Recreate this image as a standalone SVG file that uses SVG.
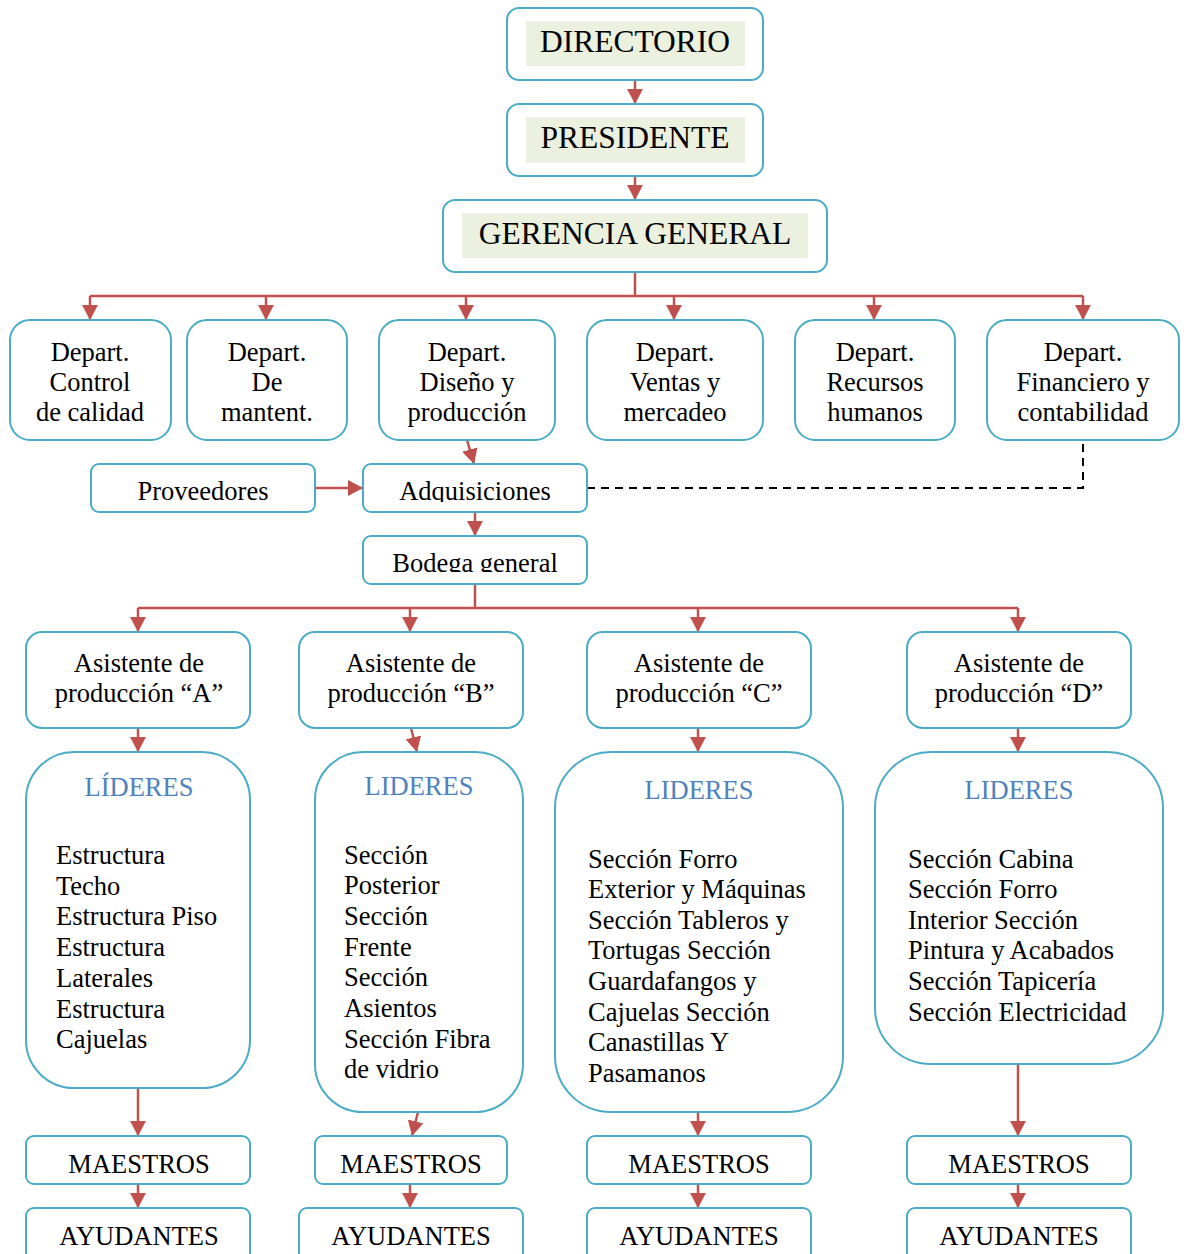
<svg xmlns="http://www.w3.org/2000/svg" width="1187" height="1254" viewBox="0 0 1187 1254">
  <defs>
    <marker id="arr" markerUnits="userSpaceOnUse" markerWidth="16" markerHeight="16" refX="15" refY="8" orient="auto">
      <path d="M0,0 L15,8 L0,16 z" fill="#c0504d"/>
    </marker>
    <clipPath id="clipAdq"><rect x="363" y="464" width="224" height="38"/></clipPath>
    <clipPath id="clipBod"><rect x="363" y="536" width="224" height="36"/></clipPath>
  </defs>
  <style>
    .box { fill: #ffffff; stroke: #4bacc6; stroke-width: 2; }
    .hl { fill: #ebf1de; }
    .t { font-family: "Liberation Serif", "Times New Roman", serif; font-size: 26.5px; fill: #000000; }
    .big { font-size: 31.5px; }
    .c { text-anchor: middle; }
    .blue { fill: #4f81bd; }
    .conn { fill: none; stroke: #c0504d; stroke-width: 2.5; }
    .arw { marker-end: url(#arr); }
    .dash { fill: none; stroke: #000000; stroke-width: 2; stroke-dasharray: 8 6; }
  </style>

  <!-- connectors -->
  <g id="connectors">
    <line class="conn arw" x1="635" y1="80" x2="635" y2="104"/>
    <line class="conn arw" x1="635" y1="176" x2="635" y2="200"/>
    <line class="conn" x1="635" y1="272" x2="635" y2="296"/>
    <line class="conn" x1="90" y1="296" x2="1083" y2="296"/>
    <line class="conn arw" x1="90" y1="296" x2="90" y2="320"/>
    <line class="conn arw" x1="266" y1="296" x2="266" y2="320"/>
    <line class="conn arw" x1="466" y1="296" x2="466" y2="320"/>
    <line class="conn arw" x1="674" y1="296" x2="674" y2="320"/>
    <line class="conn arw" x1="874" y1="296" x2="874" y2="320"/>
    <line class="conn arw" x1="1083" y1="296" x2="1083" y2="320"/>
    <line class="conn arw" x1="467" y1="440" x2="474" y2="464"/>
    <line class="conn arw" x1="315" y1="488" x2="363" y2="488"/>
    <line class="conn arw" x1="475" y1="512" x2="475" y2="536"/>
    <polyline class="dash" points="587,488 1083,488 1083,444"/>
    <line class="conn" x1="475" y1="584" x2="475" y2="608"/>
    <line class="conn" x1="138" y1="608" x2="1018" y2="608"/>
    <line class="conn arw" x1="138" y1="608" x2="138" y2="632"/>
    <line class="conn arw" x1="410" y1="608" x2="410" y2="632"/>
    <line class="conn arw" x1="698" y1="608" x2="698" y2="632"/>
    <line class="conn arw" x1="1018" y1="608" x2="1018" y2="632"/>
    <line class="conn arw" x1="138" y1="728" x2="138" y2="752"/>
    <line class="conn arw" x1="411" y1="728" x2="417" y2="752"/>
    <line class="conn arw" x1="698" y1="728" x2="698" y2="752"/>
    <line class="conn arw" x1="1018" y1="728" x2="1018" y2="752"/>
    <line class="conn arw" x1="138" y1="1088" x2="138" y2="1136"/>
    <line class="conn arw" x1="418" y1="1112" x2="412" y2="1136"/>
    <line class="conn arw" x1="698" y1="1112" x2="698" y2="1136"/>
    <line class="conn arw" x1="1018" y1="1064" x2="1018" y2="1136"/>
    <line class="conn arw" x1="138" y1="1184" x2="138" y2="1208"/>
    <line class="conn arw" x1="410" y1="1184" x2="410" y2="1208"/>
    <line class="conn arw" x1="698" y1="1184" x2="698" y2="1208"/>
    <line class="conn arw" x1="1018" y1="1184" x2="1018" y2="1208"/>
  </g>

  <!-- top management -->
  <g id="directorio">
    <rect class="box" x="507" y="8" width="256" height="72" rx="12"/>
    <rect class="hl" x="526" y="21" width="219" height="45"/>
    <text class="t big c" x="635" y="52">DIRECTORIO</text>
  </g>
  <g id="presidente">
    <rect class="box" x="507" y="104" width="256" height="72" rx="12"/>
    <rect class="hl" x="526" y="117" width="219" height="46"/>
    <text class="t big c" x="635" y="148">PRESIDENTE</text>
  </g>
  <g id="gerencia">
    <rect class="box" x="443" y="200" width="384" height="72" rx="12"/>
    <rect class="hl" x="462" y="213" width="346" height="45"/>
    <text class="t big c" x="635" y="244">GERENCIA GENERAL</text>
  </g>

  <!-- departments -->
  <g id="dep-calidad">
    <rect class="box" x="10" y="320" width="161" height="120" rx="20"/>
    <text class="t c" x="90" y="361">Depart.</text>
    <text class="t c" x="90" y="391">Control</text>
    <text class="t c" x="90" y="421">de calidad</text>
  </g>
  <g id="dep-mantenimiento">
    <rect class="box" x="187" y="320" width="160" height="120" rx="20"/>
    <text class="t c" x="267" y="361">Depart.</text>
    <text class="t c" x="267" y="391">De</text>
    <text class="t c" x="267" y="421">mantent.</text>
  </g>
  <g id="dep-diseno">
    <rect class="box" x="379" y="320" width="176" height="120" rx="20"/>
    <text class="t c" x="467" y="361">Depart.</text>
    <text class="t c" x="467" y="391">Diseño y</text>
    <text class="t c" x="467" y="421">producción</text>
  </g>
  <g id="dep-ventas">
    <rect class="box" x="587" y="320" width="176" height="120" rx="20"/>
    <text class="t c" x="675" y="361">Depart.</text>
    <text class="t c" x="675" y="391">Ventas y</text>
    <text class="t c" x="675" y="421">mercadeo</text>
  </g>
  <g id="dep-rrhh">
    <rect class="box" x="795" y="320" width="160" height="120" rx="20"/>
    <text class="t c" x="875" y="361">Depart.</text>
    <text class="t c" x="875" y="391">Recursos</text>
    <text class="t c" x="875" y="421">humanos</text>
  </g>
  <g id="dep-financiero">
    <rect class="box" x="987" y="320" width="192" height="120" rx="20"/>
    <text class="t c" x="1083" y="361">Depart.</text>
    <text class="t c" x="1083" y="391">Financiero y</text>
    <text class="t c" x="1083" y="421">contabilidad</text>
  </g>

  <!-- supply chain -->
  <g id="proveedores">
    <rect class="box" x="91" y="464" width="224" height="48" rx="8"/>
    <text class="t c" x="203" y="500">Proveedores</text>
  </g>
  <g id="adquisiciones">
    <rect class="box" x="363" y="464" width="224" height="48" rx="8"/>
    <text class="t c" x="475" y="500" clip-path="url(#clipAdq)">Adquisiciones</text>
  </g>
  <g id="bodega">
    <rect class="box" x="363" y="536" width="224" height="48" rx="8"/>
    <text class="t c" x="475" y="572" clip-path="url(#clipBod)">Bodega general</text>
  </g>

  <!-- production assistants -->
  <g id="asistente-a">
    <rect class="box" x="26" y="632" width="224" height="96" rx="16"/>
    <text class="t c" x="139" y="672">Asistente de</text>
    <text class="t c" x="139" y="702">producción “A”</text>
  </g>
  <g id="asistente-b">
    <rect class="box" x="299" y="632" width="224" height="96" rx="16"/>
    <text class="t c" x="411" y="672">Asistente de</text>
    <text class="t c" x="411" y="702">producción “B”</text>
  </g>
  <g id="asistente-c">
    <rect class="box" x="587" y="632" width="224" height="96" rx="16"/>
    <text class="t c" x="699" y="672">Asistente de</text>
    <text class="t c" x="699" y="702">producción “C”</text>
  </g>
  <g id="asistente-d">
    <rect class="box" x="907" y="632" width="224" height="96" rx="16"/>
    <text class="t c" x="1019" y="672">Asistente de</text>
    <text class="t c" x="1019" y="702">producción “D”</text>
  </g>

  <!-- leaders -->
  <g id="lideres-a">
    <rect class="box" x="26" y="752" width="224" height="336" rx="48"/>
    <text class="t c blue" x="139" y="796">LÍDERES</text>
    <text class="t" x="56" y="864">Estructura</text>
    <text class="t" x="56" y="895">Techo</text>
    <text class="t" x="56" y="925">Estructura Piso</text>
    <text class="t" x="56" y="956">Estructura</text>
    <text class="t" x="56" y="987">Laterales</text>
    <text class="t" x="56" y="1018">Estructura</text>
    <text class="t" x="56" y="1048">Cajuelas</text>
  </g>
  <g id="lideres-b">
    <rect class="box" x="315" y="752" width="208" height="360" rx="48"/>
    <text class="t c blue" x="419" y="795">LIDERES</text>
    <text class="t" x="344" y="864">Sección</text>
    <text class="t" x="344" y="894">Posterior</text>
    <text class="t" x="344" y="925">Sección</text>
    <text class="t" x="344" y="956">Frente</text>
    <text class="t" x="344" y="986">Sección</text>
    <text class="t" x="344" y="1017">Asientos</text>
    <text class="t" x="344" y="1048">Sección Fibra</text>
    <text class="t" x="344" y="1078">de vidrio</text>
  </g>
  <g id="lideres-c">
    <rect class="box" x="555" y="752" width="288" height="360" rx="56"/>
    <text class="t c blue" x="699" y="799">LIDERES</text>
    <text class="t" x="588" y="868">Sección Forro</text>
    <text class="t" x="588" y="898">Exterior y Máquinas</text>
    <text class="t" x="588" y="929">Sección Tableros y</text>
    <text class="t" x="588" y="959">Tortugas Sección</text>
    <text class="t" x="588" y="990">Guardafangos y</text>
    <text class="t" x="588" y="1021">Cajuelas Sección</text>
    <text class="t" x="588" y="1051">Canastillas Y</text>
    <text class="t" x="588" y="1082">Pasamanos</text>
  </g>
  <g id="lideres-d">
    <rect class="box" x="875" y="752" width="288" height="312" rx="56"/>
    <text class="t c blue" x="1019" y="799">LIDERES</text>
    <text class="t" x="908" y="868">Sección Cabina</text>
    <text class="t" x="908" y="898">Sección Forro</text>
    <text class="t" x="908" y="929">Interior Sección</text>
    <text class="t" x="908" y="959">Pintura y Acabados</text>
    <text class="t" x="908" y="990">Sección Tapicería</text>
    <text class="t" x="908" y="1021">Sección Electricidad</text>
  </g>

  <!-- masters -->
  <g id="maestros-a">
    <rect class="box" x="26" y="1136" width="224" height="48" rx="8"/>
    <text class="t c" x="139" y="1173">MAESTROS</text>
  </g>
  <g id="maestros-b">
    <rect class="box" x="315" y="1136" width="192" height="48" rx="8"/>
    <text class="t c" x="411" y="1173">MAESTROS</text>
  </g>
  <g id="maestros-c">
    <rect class="box" x="587" y="1136" width="224" height="48" rx="8"/>
    <text class="t c" x="699" y="1173">MAESTROS</text>
  </g>
  <g id="maestros-d">
    <rect class="box" x="907" y="1136" width="224" height="48" rx="8"/>
    <text class="t c" x="1019" y="1173">MAESTROS</text>
  </g>

  <!-- helpers -->
  <g id="ayudantes-a">
    <rect class="box" x="26" y="1208" width="224" height="56" rx="8"/>
    <text class="t c" x="139" y="1245">AYUDANTES</text>
  </g>
  <g id="ayudantes-b">
    <rect class="box" x="299" y="1208" width="224" height="56" rx="8"/>
    <text class="t c" x="411" y="1245">AYUDANTES</text>
  </g>
  <g id="ayudantes-c">
    <rect class="box" x="587" y="1208" width="224" height="56" rx="8"/>
    <text class="t c" x="699" y="1245">AYUDANTES</text>
  </g>
  <g id="ayudantes-d">
    <rect class="box" x="907" y="1208" width="224" height="56" rx="8"/>
    <text class="t c" x="1019" y="1245">AYUDANTES</text>
  </g>
</svg>
